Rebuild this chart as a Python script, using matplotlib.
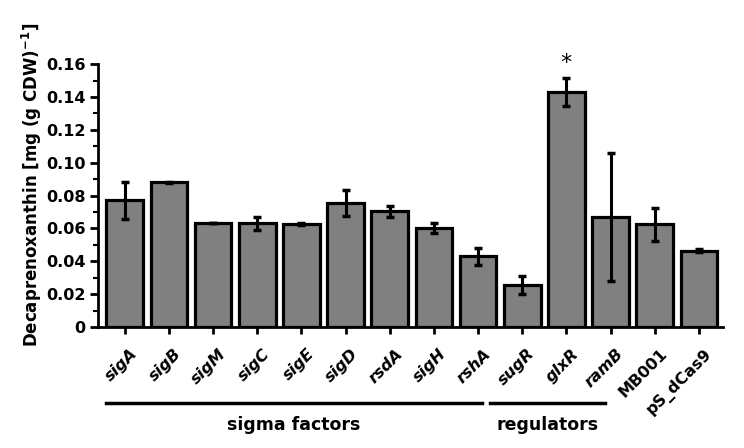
import numpy as np
import matplotlib
matplotlib.use("Agg")
import matplotlib.pyplot as plt
import matplotlib.transforms as mtrans

# strains / targets
labels = ["sigA", "sigB", "sigM", "sigC", "sigE", "sigD", "rsdA", "sigH", "rshA",
          "sugR", "glxR", "ramB", "MB001", "pS_dCas9"]
italic = [True] * 12 + [False, False]
values = [0.077, 0.088, 0.063, 0.063, 0.0625, 0.0756, 0.0705, 0.060, 0.043,
          0.0255, 0.143, 0.067, 0.0625, 0.0465]
errors = [0.011, 0.0005, 0.0, 0.004, 0.0005, 0.008, 0.0033, 0.003, 0.005,
          0.0055, 0.0085, 0.0387, 0.0102, 0.001]
# groups: (line start, line end, name) in bar-index units
groups = [(-0.43, 8.08, "sigma factors"), (8.28, 10.88, "regulators")]
star_idx = 10

plt.rcParams["font.family"] = "DejaVu Sans"
plt.rcParams["font.weight"] = "bold"

fig = plt.figure(figsize=(7.44, 4.48), dpi=100)
ax = fig.add_axes([0.132, 0.270, 0.840, 0.587])

x = np.arange(len(labels))
ax.bar(x, values, width=0.83, color="#808080", edgecolor="black", linewidth=2.3, zorder=2)
ax.errorbar(x, values, yerr=errors, fmt="none", ecolor="black", elinewidth=2.2,
            capsize=3, capthick=2.5, zorder=3)

ax.set_xlim(-0.6, 13.55)
ax.set_ylim(0, 0.16)
ax.set_yticks(np.arange(0, 0.161, 0.02))
ax.set_yticks(np.arange(0.01, 0.16, 0.02), minor=True)
ax.set_yticklabels(["0"] + [f"{v:.2f}" for v in np.arange(0.02, 0.161, 0.02)])
for t in ax.get_yticklabels():
    t.set_fontweight("bold")
    t.set_fontsize(11.5)

# x tick labels drawn as rotated text, shifted a little down/right
ax.set_xticks(x)
ax.set_xticklabels([])
trans = ax.get_xaxis_transform()
shift = mtrans.ScaledTranslation(0.05, -0.19, fig.dpi_scale_trans)
for xi, lab, it in zip(x, labels, italic):
    ax.text(xi, 0, lab, transform=trans + shift, rotation=45, ha="right", va="top",
            rotation_mode="anchor", fontsize=11.5, fontweight="bold",
            fontstyle="italic" if it else "normal", clip_on=False)

for s in ["top", "right"]:
    ax.spines[s].set_visible(False)
for s in ["left", "bottom"]:
    ax.spines[s].set_linewidth(2)
ax.tick_params(axis="y", which="major", length=6, width=2, direction="out", pad=3)
ax.tick_params(axis="y", which="minor", length=3.5, width=1.5, direction="out")
ax.tick_params(axis="x", length=5, width=2, direction="out")

ax.set_ylabel("Decaprenoxanthin [mg (g CDW)$^{\\mathbf{-1}}$]", fontsize=12,
              fontweight="bold", labelpad=2)
ax.yaxis.set_label_coords(-0.087, 0.54)

# significance star
ax.text(x[star_idx], values[star_idx] + errors[star_idx] + 0.009, "*",
        ha="center", va="center", fontsize=16, fontweight="normal", clip_on=False)

# group lines below the tick labels
for x0, x1, name in groups:
    ax.plot([x0, x1], [-0.29, -0.29], color="black", lw=2.5,
            transform=trans, clip_on=False)
    ax.text((x0 + x1) / 2, -0.34, name, ha="center", va="top", fontsize=12.5,
            fontweight="bold", transform=trans)

fig.savefig("out.png", dpi=100)
